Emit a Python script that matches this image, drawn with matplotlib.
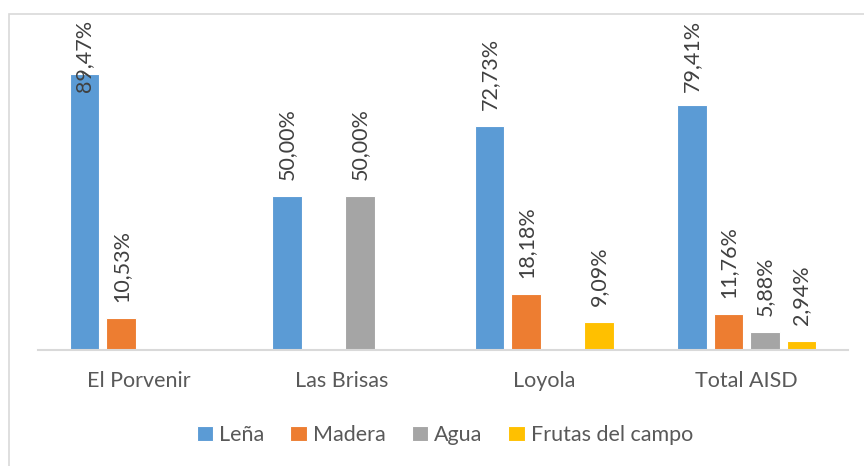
import numpy as np
import matplotlib
matplotlib.use('Agg')
import matplotlib.pyplot as plt
from matplotlib.patches import Rectangle

# Datos
categorias = ['El Porvenir', 'Las Brisas', 'Loyola', 'Total AISD']
series = ['Leña', 'Madera', 'Agua', 'Frutas del campo']
lena = [89.47, 50.00, 72.73, 79.41]
madera = [10.53, 0.0, 18.18, 11.76]
agua = [0.0, 50.00, 0.0, 5.88]
frutas = [0.0, 0.0, 9.09, 2.94]
colores = ['#5B9BD5', '#ED7D31', '#A5A5A5', '#FFC000']

plt.rcParams['font.family'] = ['Lato', 'DejaVu Sans']

fig = plt.figure(figsize=(8.64, 4.66), dpi=100)
ax = fig.add_axes([38 / 864, 116 / 466, 810 / 864, 330 / 466])

# Marco del gráfico (sale por la derecha y por abajo)
borde_sup = 1 - 13.5 / 466
fig.patches.append(Rectangle((9 / 864, -0.2), 1.5, borde_sup + 0.2,
                             transform=fig.transFigure, fill=False,
                             edgecolor='#d9d9d9', lw=1.2, zorder=0))

x = np.arange(len(categorias))
ancho = 0.145
paso = 0.18
ytop = 107
ax.set_ylim(0, ytop)
ax.set_xlim(-0.5, len(categorias) - 0.5)

etiquetas = []
for i, (nombre, vals) in enumerate(zip(series, [lena, madera, agua, frutas])):
    xs = x + (i - 1.5) * paso
    ax.bar(xs, vals, ancho, color=colores[i], edgecolor='white', lw=0.8,
           label=nombre, zorder=2)
    for xi, v in zip(xs, vals):
        if v == 0:
            continue
        t = ax.annotate(f'{v:.2f}%'.replace('.', ','), (xi, v),
                        xytext=(0, 11.5), textcoords='offset points',
                        rotation=90, ha='center', va='bottom',
                        fontsize=15.5, color='#404040', zorder=3)
        etiquetas.append((t, xi))

# Las etiquetas que no caben se bajan hasta el borde superior
fig.canvas.draw()
r = fig.canvas.get_renderer()
top_px = ax.get_window_extent(r).y1
for t, xi in etiquetas:
    if t.get_window_extent(r).y1 > top_px:
        t.xy = (xi, ytop)
        t.xyann = (0, 0)
        t.set_va('top')

for s in ['top', 'right', 'left']:
    ax.spines[s].set_visible(False)
ax.spines['bottom'].set_color('#d9d9d9')
ax.spines['bottom'].set_linewidth(1.5)
ax.set_yticks([])
ax.set_xticks(x)
ax.set_xticklabels(categorias, fontsize=15.5, color='#595959')
ax.tick_params(axis='x', length=0, pad=15)

fig.legend(loc='center', bbox_to_anchor=(445 / 864, 1 - 435 / 466), ncol=4,
           frameon=False, fontsize=15.5, labelcolor='#595959',
           handlelength=0.75, handleheight=0.75, handletextpad=0.3,
           columnspacing=1.2)

fig.savefig('out.png', dpi=100)
